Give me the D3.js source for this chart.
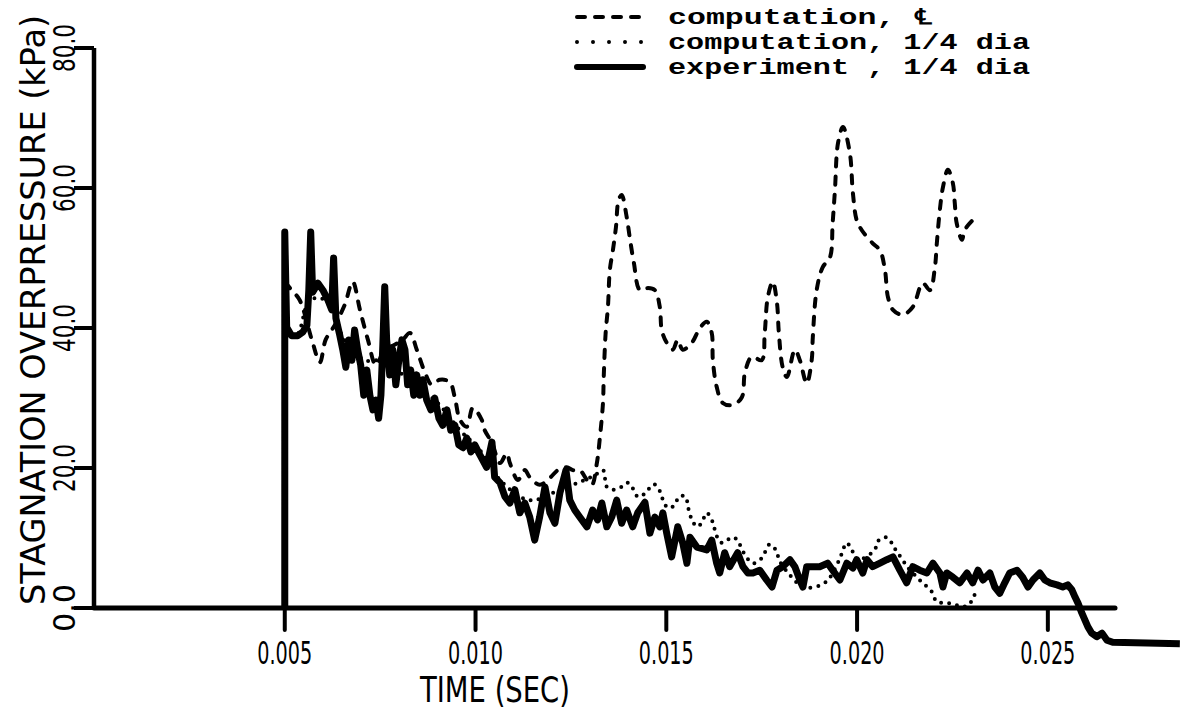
<!DOCTYPE html>
<html>
<head>
<meta charset="utf-8">
<script src="https://cdn.jsdelivr.net/npm/d3@7"></script>
<style>
  body { margin: 0; background: #fff; }
  svg { display: block; }
</style>
</head>
<body>
<div id="chart"></div>
<script>
var svgWidth = 1198;
var svgHeight = 709;

// tick values
var xTicks = [0.005, 0.010, 0.015, 0.020, 0.025];
var yTicks = [0, 20, 40, 60, 80];

// experiment, 1/4 dia  (time in ms, overpressure in kPa)
var expTime = [5.00, 5.00, 5.05, 5.18, 5.34, 5.47, 5.58, 5.63, 5.68, 5.73, 5.87, 6.00, 6.13, 6.23, 6.28, 6.34,
  6.44, 6.52, 6.60, 6.68, 6.76, 6.83, 6.91, 6.99, 7.07, 7.15, 7.23, 7.31, 7.39, 7.46, 7.52, 7.57, 7.62, 7.67,
  7.75, 7.83, 7.91, 7.99, 8.07, 8.15, 8.22, 8.30, 8.38, 8.46, 8.54, 8.62, 8.72, 8.83, 8.93, 9.04, 9.14, 9.25,
  9.35, 9.46, 9.56, 9.67, 9.77, 9.88, 9.98, 10.11, 10.29, 10.43, 10.50, 10.64, 10.77, 10.90, 11.03, 11.16,
  11.29, 11.42, 11.55, 11.68, 11.82, 11.95, 12.08, 12.21, 12.37, 12.47, 12.60, 12.73, 12.92, 13.07, 13.20,
  13.31, 13.44, 13.57, 13.70, 13.83, 13.96, 14.12, 14.25, 14.44, 14.57, 14.70, 14.83, 14.91, 15.01, 15.14,
  15.30, 15.43, 15.54, 15.62, 15.80, 16.06, 16.19, 16.32, 16.40, 16.53, 16.66, 16.87, 17.01, 17.14, 17.27,
  17.45, 17.63, 17.77, 17.90, 18.05, 18.24, 18.37, 18.50, 18.58, 18.68, 18.84, 19.02, 19.23, 19.36, 19.55,
  19.73, 19.89, 19.99, 20.15, 20.26, 20.41, 20.60, 20.78, 20.94, 21.12, 21.30, 21.46, 21.64, 21.83, 21.99,
  22.17, 22.25, 22.35, 22.51, 22.69, 22.88, 23.03, 23.17, 23.30, 23.48, 23.61, 23.74, 23.87, 24.00, 24.19,
  24.34, 24.48, 24.61, 24.79, 24.92, 25.05, 25.24, 25.39, 25.52, 25.63, 25.71, 25.79, 25.89, 25.97, 26.05,
  26.15, 26.28, 26.42, 26.55, 26.70, 27.60, 28.46];
var expKPa = [0.0, 53.7, 40.1, 38.9, 38.9, 39.4, 40.4, 45.4, 53.7, 45.1, 46.4, 45.4, 44.0, 42.6, 50.0, 41.4,
  39.0, 36.9, 34.4, 38.3, 35.4, 39.7, 36.9, 34.7, 30.4, 34.0, 30.4, 28.3, 29.7, 27.1, 30.4, 37.6, 45.9, 38.3,
  33.3, 36.9, 31.9, 35.4, 38.3, 36.9, 31.9, 34.0, 30.4, 33.3, 30.4, 32.6, 29.7, 28.3, 30.0, 27.1, 26.1, 28.3,
  25.4, 26.1, 23.3, 22.9, 24.3, 22.3, 23.3, 21.9, 20.1, 23.7, 18.7, 17.9, 15.9, 15.0, 16.9, 13.6,
  15.0, 13.0, 9.7, 13.0, 17.3, 13.6, 12.1, 16.4, 19.7, 15.4, 14.0, 13.0, 11.6, 14.0, 12.6,
  15.0, 11.6, 13.0, 15.4, 12.1, 14.0, 11.6, 13.6, 15.1, 10.7, 13.0, 11.6, 13.6, 10.7, 7.3,
  11.6, 9.3, 6.4, 10.1, 8.7, 8.3, 9.7, 6.4, 5.0, 7.9, 5.9, 7.9, 5.9, 5.0, 5.0,
  5.4, 4.0, 3.0, 5.4, 5.9, 6.9, 5.9, 4.0, 3.0, 5.9, 5.9, 5.9, 6.4, 5.4, 4.0,
  6.4, 5.7, 6.9, 5.0, 6.9, 5.9, 6.4, 6.9, 7.3, 5.4, 3.6, 5.9, 5.4, 5.0, 6.4,
  5.0, 3.0, 5.0, 4.4, 3.6, 5.0, 3.6, 5.4, 4.0, 5.0, 3.0, 2.1, 3.6, 5.0, 5.4,
  4.4, 3.0, 4.0, 5.0, 4.0, 3.6, 3.3, 3.0, 3.3, 2.6, 1.6, 0.7, -0.7, -1.7, -2.7,
  -3.6, -4.1, -3.6, -4.6, -4.9, -5.0, -5.1];

// computation, centerline
var cenTime = [5.00, 5.18, 5.39, 5.71, 5.92, 6.07, 6.31, 6.57, 6.78, 6.97, 7.18, 7.39, 7.62, 7.88, 8.09, 8.28,
  8.46, 8.67, 8.85, 9.06, 9.32, 9.46, 9.59, 9.77, 9.93, 10.16, 10.24, 10.43, 10.64, 10.82, 10.90, 11.11,
  11.29, 11.42, 11.68, 11.95, 12.16, 12.39, 12.55, 12.73, 12.92, 13.05, 13.18, 13.26, 13.34, 13.36, 13.41,
  13.47, 13.52, 13.60, 13.68, 13.75, 13.83, 13.96, 14.04, 14.15, 14.31, 14.52, 14.70, 14.83, 14.88, 15.01,
  15.17, 15.30, 15.43, 15.67, 15.88, 16.06, 16.19, 16.22, 16.32, 16.48, 16.74, 16.98, 17.06, 17.24, 17.50,
  17.58, 17.66, 17.79, 17.90, 17.95, 18.05, 18.16, 18.37, 18.50, 18.68, 18.81, 18.84, 18.94, 19.10, 19.29,
  19.36, 19.42, 19.50, 19.63, 19.81, 19.89, 19.99, 20.12, 20.41, 20.60, 20.73, 20.81, 20.94, 21.20, 21.46,
  21.72, 21.91, 22.04, 22.09, 22.17, 22.25, 22.38, 22.51, 22.56, 22.61, 22.75, 22.82, 23.03];
var cenKPa = [46.6, 45.4, 44.0, 38.3, 35.1, 38.3, 40.4, 43.3, 46.6, 42.6, 38.3, 34.7, 36.9, 37.6, 38.3, 39.3,
  36.9, 33.7, 31.9, 32.6, 32.3, 30.0, 26.9, 25.9, 28.6, 26.9, 25.4, 23.6, 20.7, 22.1, 20.7, 18.3,
  19.7, 18.7, 17.6, 18.6, 19.7, 20.1, 19.7, 19.7, 18.3, 17.6, 20.7, 24.4, 29.3, 33.0, 39.3,
  43.0, 48.3, 51.1, 54.4, 58.3, 59.0, 55.9, 53.0, 49.3, 45.4, 45.7, 45.4, 43.0, 39.7, 37.9,
  36.9, 38.3, 36.9, 37.9, 40.0, 40.9, 39.3, 35.4, 31.6, 29.3, 29.0, 30.1, 33.6, 35.9, 35.4,
  39.3, 44.4, 46.6, 43.6, 39.3, 34.4, 33.0, 36.9, 35.4, 32.1, 35.4, 38.7, 45.4, 48.7, 50.1,
  55.0, 59.7, 66.4, 68.7, 65.0, 59.3, 55.4, 54.0, 52.1, 51.1, 48.3, 44.4, 42.6, 41.9, 43.0,
  46.4, 45.4, 48.7, 52.1, 56.9, 60.1, 62.6, 60.7, 57.9, 55.0, 52.6, 54.0, 55.4];

// computation, 1/4 dia
var qtrTime = [5.00, 5.31, 5.66, 6.05, 6.57, 7.10, 7.75, 8.28, 8.93, 9.59, 10.11, 10.64, 11.42, 12.21, 12.86,
  13.13, 13.34, 13.39, 13.44, 13.62, 13.83, 13.99, 14.12, 14.25, 14.38, 14.52, 14.67, 14.83, 14.88, 15.04,
  15.22, 15.33, 15.51, 15.56, 15.62, 15.69, 15.83, 15.96, 16.06, 16.19, 16.25, 16.32, 16.45, 16.59, 16.77,
  16.90, 17.06, 17.27, 17.48, 17.58, 17.71, 17.90, 17.95, 18.24, 18.50, 18.74, 19.18, 19.55, 19.63, 19.73,
  19.86, 20.02, 20.39, 20.52, 20.57, 20.78, 20.94, 21.04, 21.17, 21.30, 21.64, 21.96, 22.09, 22.40, 22.69,
  22.90, 23.03, 23.11];
var qtrKPa = [39.7, 39.0, 44.0, 44.0, 38.3, 35.4, 35.4, 31.9, 29.7, 25.4, 22.6, 18.3, 15.4, 16.9, 18.3,
  19.0, 19.7, 18.6, 17.3, 16.9, 17.3, 17.9, 17.1, 15.9, 16.1, 16.9, 17.7, 16.7, 15.9, 14.3,
  14.7, 15.9, 15.9, 14.6, 13.4, 12.3, 11.6, 12.6, 13.6, 12.6, 11.6, 10.3, 9.3, 9.7, 10.1,
  9.3, 7.6, 6.4, 7.0, 7.9, 9.1, 8.0, 6.9, 4.7, 3.3, 2.9, 3.7, 7.1, 8.3, 9.3,
  8.3, 6.9, 7.9, 8.9, 9.7, 10.1, 9.0, 8.0, 7.1, 6.0, 4.0, 2.3, 0.9, 0.7, 0.3,
  0.3, 1.3, 2.3];

function toPoints(times, vals) {
  return times.map(function(t, i) { return { t: t / 1000, v: vals[i] }; });
}
var expData = toPoints(expTime, expKPa);
var cenData = toPoints(cenTime, cenKPa);
var qtrData = toPoints(qtrTime, qtrKPa);

var svg = d3.select("#chart")
  .append("svg")
  .attr("width", svgWidth)
  .attr("height", svgHeight);

var xScale = d3.scaleLinear().domain([0, 0.02676]).range([94, 1115]);
var yScale = d3.scaleLinear().domain([0, 80]).range([608, 48]);

var plotFont = "'DejaVu Sans', sans-serif";

// axis lines
svg.append("line")
  .attr("x1", xScale(0)).attr("x2", xScale(0))
  .attr("y1", yScale(80)).attr("y2", yScale(0) + 2)
  .attr("stroke", "#000").attr("stroke-width", 4.5);

svg.append("line")
  .attr("x1", xScale(0)).attr("x2", xScale(0.02676))
  .attr("y1", yScale(0)).attr("y2", yScale(0))
  .attr("stroke", "#000").attr("stroke-width", 5)
  .attr("stroke-linecap", "round");

// y ticks + labels
var yAxis = svg.append("g");
yAxis.selectAll("line")
  .data(yTicks)
  .enter().append("line")
  .attr("x1", xScale(0) - 20).attr("x2", xScale(0))
  .attr("y1", d => yScale(d)).attr("y2", d => yScale(d))
  .attr("stroke", "#000").attr("stroke-width", 4);

yAxis.selectAll("text")
  .data(yTicks)
  .enter().append("text")
  .attr("transform", d => `translate(75, ${yScale(d)}) rotate(-90)`)
  .attr("text-anchor", "middle")
  .attr("font-family", plotFont)
  .attr("font-size", 30)
  .attr("textLength", 48)
  .attr("lengthAdjust", "spacingAndGlyphs")
  .text(d => d3.format(".1f")(d));

// x ticks + labels
var xAxis = svg.append("g");
xAxis.selectAll("line")
  .data(xTicks)
  .enter().append("line")
  .attr("x1", d => xScale(d)).attr("x2", d => xScale(d))
  .attr("y1", yScale(0)).attr("y2", yScale(0) + 22)
  .attr("stroke", "#000").attr("stroke-width", 4)
  .attr("stroke-linecap", "round");

xAxis.selectAll("text")
  .data(xTicks)
  .enter().append("text")
  .attr("x", d => xScale(d))
  .attr("y", 664)
  .attr("text-anchor", "middle")
  .attr("font-family", plotFont)
  .attr("font-size", 32)
  .attr("textLength", 55)
  .attr("lengthAdjust", "spacingAndGlyphs")
  .text(d => d3.format(".3f")(d));

// axis titles
svg.append("text")
  .attr("x", 495)
  .attr("y", 702)
  .attr("text-anchor", "middle")
  .attr("font-family", plotFont)
  .attr("font-size", 36)
  .attr("textLength", 150)
  .attr("lengthAdjust", "spacingAndGlyphs")
  .text("TIME (SEC)");

svg.append("text")
  .attr("transform", "translate(45, 310) rotate(-90)")
  .attr("text-anchor", "middle")
  .attr("font-family", plotFont)
  .attr("font-size", 34)
  .attr("textLength", 590)
  .attr("lengthAdjust", "spacingAndGlyphs")
  .text("STAGNATION OVERPRESSURE (kPa)");

// curves
var smoothLine = d3.line()
  .x(d => xScale(d.t))
  .y(d => yScale(d.v))
  .curve(d3.curveCatmullRom.alpha(0.5));

var rawLine = d3.line()
  .x(d => xScale(d.t))
  .y(d => yScale(d.v));

svg.append("path")
  .datum(qtrData)
  .attr("d", smoothLine)
  .attr("fill", "none")
  .attr("stroke", "#000")
  .attr("stroke-width", 4)
  .attr("stroke-linecap", "round")
  .attr("stroke-dasharray", "0 8");

svg.append("path")
  .datum(cenData)
  .attr("d", smoothLine)
  .attr("fill", "none")
  .attr("stroke", "#000")
  .attr("stroke-width", 4)
  .attr("stroke-linecap", "round")
  .attr("stroke-dasharray", "8 10");

svg.append("path")
  .datum(expData)
  .attr("d", rawLine)
  .attr("fill", "none")
  .attr("stroke", "#000")
  .attr("stroke-width", 7)
  .attr("stroke-linejoin", "round");

// legend
var legendRows = [
  { label: "computation, \u2104", dash: "8 10", width: 4, len: 265 },
  { label: "computation, 1/4 dia", dash: "0 16", width: 4, len: 362 },
  { label: "experiment , 1/4 dia", dash: null, width: 6, len: 362 }
];

var legend = svg.append("g");
legendRows.forEach(function(row, i) {
  var cy = 17 + i * 25;
  legend.append("line")
    .attr("x1", 577).attr("x2", 643)
    .attr("y1", cy).attr("y2", cy)
    .attr("stroke", "#000")
    .attr("stroke-width", row.width)
    .attr("stroke-linecap", "round")
    .attr("stroke-dasharray", row.dash);
  legend.append("text")
    .attr("x", 668)
    .attr("y", cy + 7)
    .attr("font-family", "'Liberation Mono', 'DejaVu Sans Mono', monospace")
    .attr("font-weight", "bold")
    .attr("font-size", 22)
    .attr("textLength", row.len)
    .attr("lengthAdjust", "spacingAndGlyphs")
    .text(row.label);
});
</script>
</body>
</html>
